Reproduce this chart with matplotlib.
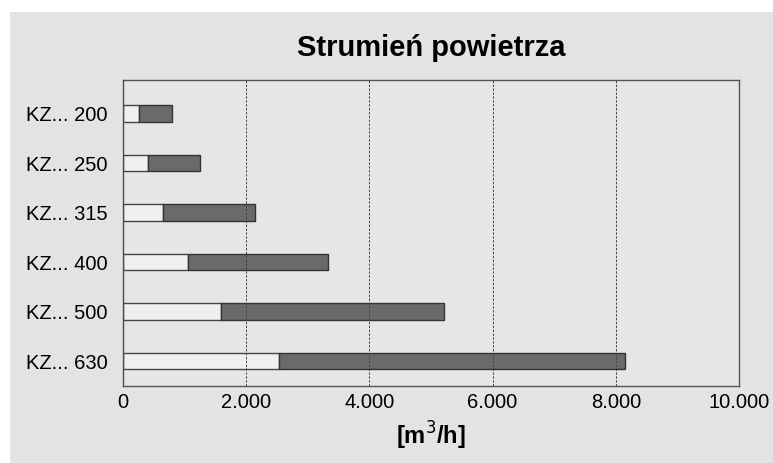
import matplotlib
matplotlib.use('Agg')
import matplotlib.pyplot as plt
from matplotlib.patches import Rectangle
from matplotlib.ticker import FuncFormatter

plt.rcParams['font.family'] = ['Liberation Sans', 'DejaVu Sans']

# dane
categories = ['KZ... 200', 'KZ... 250', 'KZ... 315', 'KZ... 400', 'KZ... 500', 'KZ... 630']
flow_min = [260, 400, 650, 1050, 1590, 2530]
flow_max = [800, 1250, 2150, 3330, 5210, 8150]
xticks = [0, 2000, 4000, 6000, 8000, 10000]

W, H = 773, 463
fig = plt.figure(figsize=(W / 100, H / 100), dpi=100, facecolor='white')
fig.patches.append(Rectangle((10 / W, 0), 1 - 10 / W, 1 - 12 / H,
                             transform=fig.transFigure, facecolor='#e3e3e3',
                             edgecolor='none', zorder=-10))

ax = fig.add_axes([123 / W, 77 / H, 616 / W, 306 / H])
ax.set_facecolor('#e6e6e6')

n = len(categories)
ypos = [n - 1 - i for i in range(n)]
h = 0.343
ax.barh(ypos, flow_min, height=h, color='#f0f0f0', edgecolor='#444444', linewidth=1, zorder=2)
widths = [b - a for a, b in zip(flow_min, flow_max)]
ax.barh(ypos, widths, left=flow_min, height=h, color='#6a6a6a', edgecolor='#333333', linewidth=1, zorder=2)

ax.set_xlim(0, 10000)
ax.set_ylim(-0.505, n - 1 + 0.677)
ax.set_xticks(xticks)
ax.xaxis.set_major_formatter(FuncFormatter(lambda v, p: f'{int(v):,}'.replace(',', '.')))
ax.set_yticks(ypos)
ax.set_yticklabels(categories)
ax.tick_params(axis='both', length=0, labelsize=14.5, colors='black')
ax.tick_params(axis='y', pad=11)
ax.tick_params(axis='x', pad=5)

ax.grid(axis='x', color='#444444', linestyle=(0, (2.5, 1.5)), linewidth=0.7, zorder=3)
ax.set_axisbelow(False)
for s in ax.spines.values():
    s.set_color('#555555')
    s.set_linewidth(1)

ax.set_title('Strumień powietrza', fontsize=21, fontweight='bold', pad=17)
ax.set_xlabel('[m$^3$/h]', fontsize=17, fontweight='bold', labelpad=6)

plt.savefig('out.png', dpi=100)
